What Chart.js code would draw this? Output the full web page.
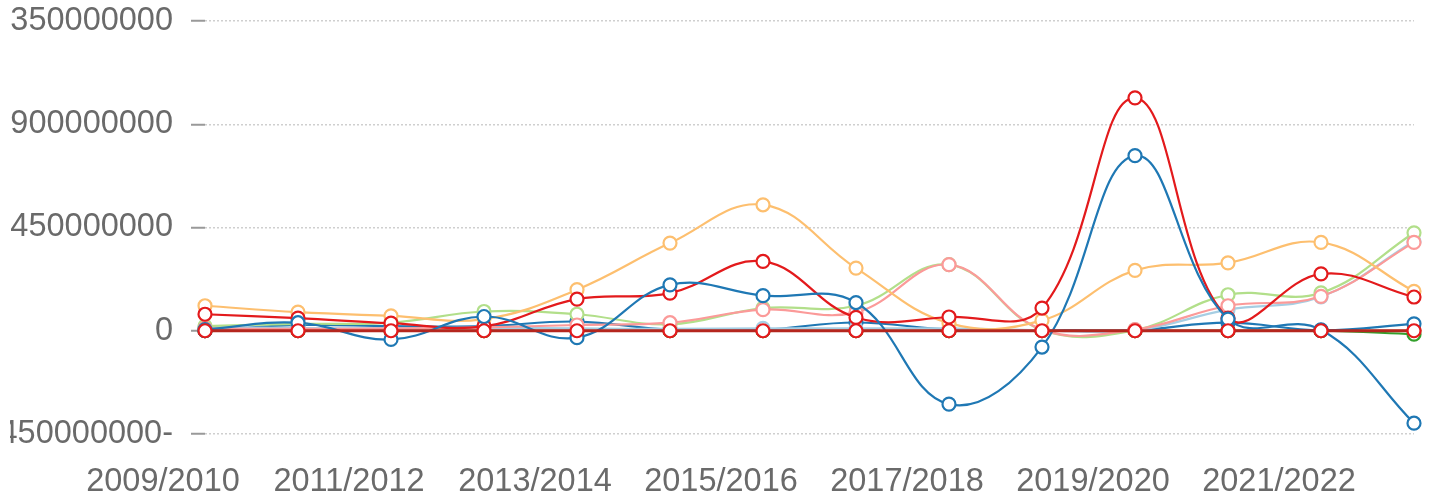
<!DOCTYPE html>
<html><head><meta charset="utf-8">
<script src="https://cdn.jsdelivr.net/npm/chart.js@4/dist/chart.umd.min.js"></script>
<style>
html,body{margin:0;padding:0;background:#fff;overflow:hidden}
#wrap{position:absolute;left:10px;top:0;width:1421px;height:502px}
canvas{direction:rtl}
</style></head><body>
<div id="wrap"><canvas id="c"></canvas></div>
<script>
const categories = ["2009/2010","2010/2011","2011/2012","2012/2013","2013/2014","2014/2015","2015/2016","2016/2017","2017/2018","2018/2019","2019/2020","2020/2021","2021/2022","2022/2023"];
const yTicks = [-450000000, 0, 450000000, 900000000, 1350000000];

const zeroRed     = [0,0,0,0,0,0,0,0,0,0,0,0,0,0];
const blueSwing   = [5e6, 35e6, -38e6, 62e6, -30e6, 200e6, 153e6, 123e6, -320e6, -71e6, 763e6, 51e6, 4e6, -403e6];
const redPeak     = [72e6, 55e6, 33e6, 19e6, 138e6, 164e6, 302e6, 58e6, 60e6, 99e6, 1015e6, 55e6, 248e6, 147e6];
const lightOrange = [109e6, 81e6, 65e6, 51e6, 179e6, 382e6, 549e6, 273e6, 33e6, 45e6, 263e6, 296e6, 385e6, 172e6];
const pink        = [10e6, 8e6, 10e6, 15e6, 25e6, 35e6, 92e6, 80e6, 288e6, 5e6, 5e6, 109e6, 150e6, 385e6];
const lightGreen  = [20e6, 30e6, 35e6, 84e6, 72e6, 28e6, 99e6, 109e6, 288e6, 3e6, 3e6, 157e6, 165e6, 427e6];
const lightBlue   = [15e6, 12e6, 10e6, 12e6, 10e6, 8e6, 10e6, 10e6, 10e6, 2e6, 2e6, 92e6, 148e6, 390e6];
const blue2       = [0, 25e6, 20e6, 20e6, 40e6, 5e6, 5e6, 36e6, 5e6, 3e6, 3e6, 35e6, 2e6, 30e6];
const darkGreen   = [0,0,0,0,0,0,0,0,0,0,0,0,0,-15e6];
const brown       = [0,0,0,0,0,0,0,0,0,0,0,0,0,0];

// name, values, line colour, marker colour
const seriesList = [
  ["Series A", zeroRed, "#b5261e", "#e31a1c"],
  ["Series B", blueSwing, "#1f78b4", "#1f78b4"],
  ["Series C", redPeak, "#e31a1c", "#e31a1c"],
  ["Series D", lightOrange, "#fdbf6f", "#fdbf6f"],
  ["Series E", pink, "#fb9a99", "#fb9a99"],
  ["Series F", lightGreen, "#b2df8a", "#b2df8a"],
  ["Series G", lightBlue, "#a6cee3", "#a6cee3"],
  ["Series H", blue2, "#1f78b4", "#1f78b4"],
  ["Series I", darkGreen, "#33a02c", "#33a02c"],
  ["Series J", brown, "#b15928", "#b15928"]
];

const FONT = {family: "'Liberation Sans', Arial, sans-serif", size: 32.5};

new Chart(document.getElementById('c'), {
  type: 'line',
  data: {
    labels: categories,
    datasets: seriesList.map(([name, data, color, mcolor], i) => ({
      label: name, data: data,
      borderColor: color, backgroundColor: '#fff',
      pointBackgroundColor: '#fff', pointBorderColor: mcolor,
      pointRadius: 6.5, pointBorderWidth: 2.2, borderWidth: i === 0 ? 3 : 2.2,
      tension: 0.4, fill: false
    }))
  },
  options: {
    responsive: true, maintainAspectRatio: false, animation: false,
    layout: {padding: {top: 21, right: 17, bottom: 0, left: 0}},
    plugins: {legend: {display: false}, tooltip: {enabled: false}},
    scales: {
      x: {
        grid: {display: false, drawTicks: false, tickLength: 0},
        border: {display: false},
        ticks: {font: FONT, color: '#6a6a6a', maxRotation: 0, autoSkip: true, padding: 29, labelOffset: -42},
        afterFit: s => { s.height = 68; s.paddingLeft = 0; s.paddingRight = 0; }
      },
      y: {
        min: yTicks[0], max: yTicks[yTicks.length - 1], stepSize: yTicks[1] - yTicks[0],
        grid: {color: '#cfcfcf', lineWidth: 1.5, tickLength: 14, tickColor: '#999', tickWidth: 2, drawTicks: true},
        border: {display: false, dash: [2, 2]},
        ticks: {font: FONT, color: '#6a6a6a', padding: 18, stepSize: yTicks[1] - yTicks[0], callback: v => String(v)},
        afterFit: s => { s.width = 195; s.paddingTop = 0; s.paddingBottom = 0; }
      }
    }
  }
});
</script>
</body></html>
